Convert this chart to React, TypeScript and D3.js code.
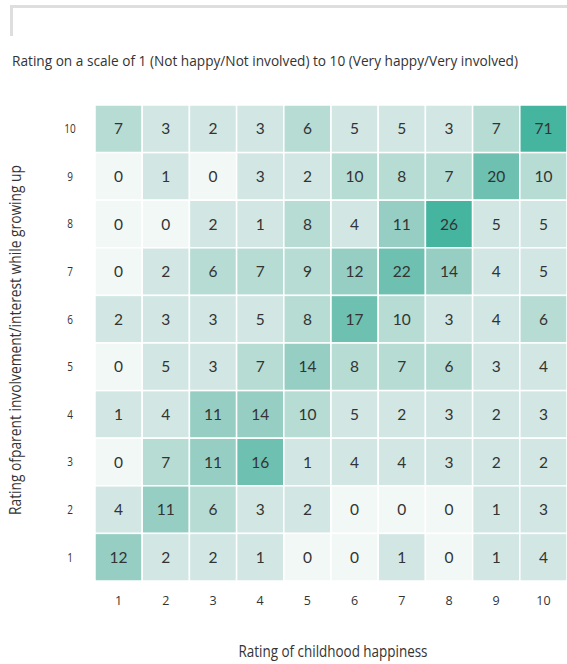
import React from "react";
import * as d3 from "d3";

const xCategories = ["1", "2", "3", "4", "5", "6", "7", "8", "9", "10"];
const yCategories = ["10", "9", "8", "7", "6", "5", "4", "3", "2", "1"];
// rows from rating 10 (top) down to 1 (bottom); columns happiness 1..10
const row10 = [7, 3, 2, 3, 6, 5, 5, 3, 7, 71];
const row9 = [0, 1, 0, 3, 2, 10, 8, 7, 20, 10];
const row8 = [0, 0, 2, 1, 8, 4, 11, 26, 5, 5];
const row7 = [0, 2, 6, 7, 9, 12, 22, 14, 4, 5];
const row6 = [2, 3, 3, 5, 8, 17, 10, 3, 4, 6];
const row5 = [0, 5, 3, 7, 14, 8, 7, 6, 3, 4];
const row4 = [1, 4, 11, 14, 10, 5, 2, 3, 2, 3];
const row3 = [0, 7, 11, 16, 1, 4, 4, 3, 2, 2];
const row2 = [4, 11, 6, 3, 2, 0, 0, 0, 1, 3];
const row1 = [12, 2, 2, 1, 0, 0, 1, 0, 1, 4];
const rows = [row10, row9, row8, row7, row6, row5, row4, row3, row2, row1];

const colorThresholds = [1, 6, 11, 16, 26];
const colorRange = ["#f2f8f6", "#d2e7e3", "#b6dcd4", "#96cec3", "#6ec0b1", "#46b5a0"];

const title = "Rating on a scale of 1 (Not happy/Not involved) to 10 (Very happy/Very involved)";
const xTitle = "Rating of childhood happiness";
const yTitle = "Rating ofparent involvement/interest while growing up";

export default function App() {
  const W = 567, H = 664;
  const x = d3.scaleBand().domain(xCategories).range([95, 567]).padding(0);
  const y = d3.scaleBand().domain(yCategories).range([105, 581]).padding(0);
  const color = d3.scaleThreshold<number, string>().domain(colorThresholds).range(colorRange);
  const axisFont = "'Open Sans', sans-serif";
  const cellFont = "Lato, 'Open Sans', sans-serif";

  return (
    <svg width={W} height={H} style={{ position: "absolute", left: 0, top: 0, background: "#fff" }}>
      <path d="M11.5,36 V6.5 H567" fill="none" stroke="#dedede" strokeWidth={3} />
      <text x={12} y={66} fontFamily={axisFont} fontSize={14} fill="#333" textLength={506} lengthAdjust="spacingAndGlyphs">{title}</text>
      {rows.map((row, ri) =>
        row.map((v, ci) => {
          const cx = x(xCategories[ci])!;
          const cy = y(yCategories[ri])!;
          return (
            <g key={`${ri}-${ci}`}>
              <rect x={cx} y={cy} width={x.bandwidth()} height={y.bandwidth()} fill={color(v)} stroke="#fff" strokeWidth={1.5} />
              <text x={cx + x.bandwidth() / 2} y={cy + y.bandwidth() / 2} dy="0.36em" textAnchor="middle" fontFamily={cellFont} fontSize={15.5} fill="#333">{v}</text>
            </g>
          );
        })
      )}
      {yCategories.map((c) => (
        <text key={"y" + c} x={70} y={y(c)! + y.bandwidth() / 2} dy="0.35em" textAnchor="middle" fontFamily={axisFont} fontSize={12.5} fill="#333" transform={`translate(${70 * 0.2},0) scale(0.8,1)`}>{c}</text>
      ))}
      {xCategories.map((c) => (
        <text key={"x" + c} x={x(c)! + x.bandwidth() / 2} y={605} textAnchor="middle" fontFamily={axisFont} fontSize={12.5} fill="#333">{c}</text>
      ))}
      <text x={333} y={657} textAnchor="middle" fontFamily={axisFont} fontSize={16} fill="#333" textLength={189} lengthAdjust="spacingAndGlyphs">{xTitle}</text>
      <text transform="translate(21,340) rotate(-90)" textAnchor="middle" fontFamily={axisFont} fontSize={16} fill="#333" textLength={350} lengthAdjust="spacingAndGlyphs">{yTitle}</text>
    </svg>
  );
}
